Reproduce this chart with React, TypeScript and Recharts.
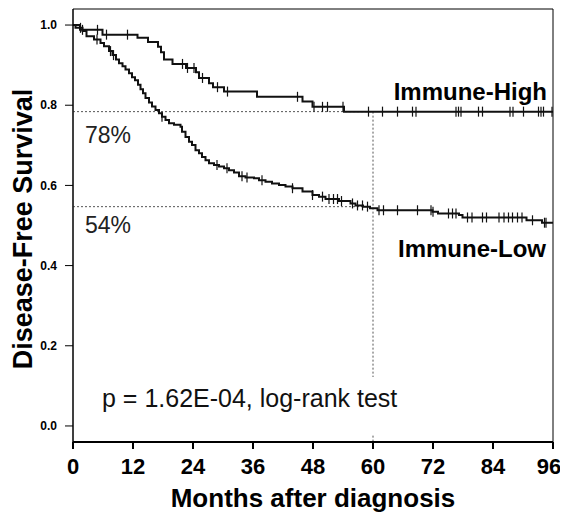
import {
    ComposedChart,
    Line,
    Scatter,
    XAxis,
    YAxis,
    ReferenceLine,
    ReferenceArea
} from "recharts";

const FONT = "'Liberation Sans', Arial, sans-serif";

const monthTicks = [0, 12, 24, 36, 48, 60, 72, 84, 96];
const survivalTicks = [0, 0.2, 0.4, 0.6, 0.8, 1.0];
const monthDomain = [0, 96];
const survivalDomain = [-0.04, 1.04];

// Immune-High: step times (months) and survival after each step
const highTimes = [0, 1.4, 5.9, 12.9, 15.0, 17.0, 17.6, 18.2, 19.9, 22.6, 24.6, 25.2, 27.2, 28.0, 30.2, 36.8, 45.9, 47.9, 54.2, 96];
const highSurv = [1.0, 0.988, 0.976, 0.968, 0.958, 0.946, 0.932, 0.914, 0.903, 0.893, 0.882, 0.868, 0.855, 0.845, 0.834, 0.821, 0.809, 0.796, 0.784, 0.784];
const highCensor = [1.9, 4.9, 6.7, 10.9, 21.9, 22.9, 24.2, 25.9, 28.9, 30.9, 44.9, 48.2, 49.9, 50.9, 54.0, 59.1, 61.9, 64.9, 67.9, 68.6, 76.6, 77.1, 77.6, 81.1, 81.9, 87.4, 88.0, 90.1, 93.1, 93.6, 94.1, 95.8];

// Immune-Low
const lowTimes = [0, 0.5, 1.9, 2.7, 4.2, 5.5, 6.2, 7.2, 7.9, 8.6, 9.2, 9.9, 10.5, 11.2, 11.8, 12.4, 13.0, 13.5, 14.0, 14.5, 15.2, 15.8, 16.5, 17.2, 17.8, 18.5, 19.2, 20.2, 21.5, 21.8, 22.5, 23.2, 23.8, 24.5, 25.2, 25.8, 26.5, 27.2, 28.2, 29.2, 30.2, 31.2, 32.2, 33.2, 34.5, 36.2, 37.2, 38.5, 39.8, 41.2, 42.5, 43.9, 45.9, 47.9, 49.2, 50.5, 53.2, 55.5, 56.5, 58.0, 59.4, 60.9, 71.9, 73.0, 77.2, 77.9, 90.7, 93.8, 96];
const lowSurv = [1.0, 0.993, 0.985, 0.972, 0.964, 0.955, 0.947, 0.935, 0.925, 0.914, 0.905, 0.897, 0.889, 0.88, 0.87, 0.862, 0.851, 0.84, 0.83, 0.818, 0.807, 0.797, 0.788, 0.78, 0.771, 0.763, 0.755, 0.751, 0.746, 0.734, 0.721, 0.709, 0.701, 0.688, 0.68, 0.671, 0.663, 0.655, 0.651, 0.647, 0.643, 0.638, 0.632, 0.623, 0.62, 0.618, 0.613, 0.609, 0.605, 0.601, 0.597, 0.593, 0.585, 0.576, 0.572, 0.566, 0.561, 0.555, 0.55, 0.547, 0.543, 0.538, 0.534, 0.53, 0.526, 0.52, 0.513, 0.507, 0.507];
const lowCensor = [1.5, 4.8, 7.5, 8.1, 17.8, 28.8, 30.8, 33.8, 34.8, 37.8, 43.9, 47.9, 49.9, 51.2, 52.1, 52.9, 53.7, 55.9, 56.9, 57.9, 58.9, 61.2, 62.1, 64.9, 68.9, 71.6, 72.0, 75.1, 75.9, 76.6, 78.9, 79.8, 81.9, 82.7, 85.2, 86.2, 87.1, 87.9, 88.9, 89.8, 91.9, 94.3, 94.6];

const landmarkMonth = 60;
const highAtLandmark = 0.784;
const lowAtLandmark = 0.547;

function survivalAt(times: number[], surv: number[], t: number) {
    let s = surv[0];
    for (let i = 0; i < times.length; i++) {
        if (times[i] <= t) s = surv[i];
    }
    return s;
}

const highCurve = highTimes.map((t, i) => ({ t, s: highSurv[i] }));
const lowCurve = lowTimes.map((t, i) => ({ t, s: lowSurv[i] }));
const highMarks = highCensor.map((t) => ({ t, s: survivalAt(highTimes, highSurv, t) }));
const lowMarks = lowCensor.map((t) => ({ t, s: survivalAt(lowTimes, lowSurv, t) }));

const CensorTick = (props: any) => (
    <line x1={props.cx} x2={props.cx} y1={props.cy - 5} y2={props.cy + 5} stroke="#111" strokeWidth={1.2} />
);

const dashed = { stroke: "#555", strokeWidth: 1, strokeDasharray: "2 2" };

export default function App() {
    return (
        <div style={{ position: "relative", width: 552, height: 512 }}>
            <ComposedChart
                width={552}
                height={512}
                margin={{ top: 1, right: 7, left: 0, bottom: 0 }}
            >
                <XAxis
                    dataKey="t"
                    type="number"
                    domain={monthDomain}
                    ticks={monthTicks}
                    height={78}
                    tickSize={7}
                    tickMargin={9}
                    axisLine={{ stroke: "#000", strokeWidth: 2 }}
                    tickLine={{ stroke: "#000", strokeWidth: 2 }}
                    tick={{ fontSize: 22, fontWeight: 700, fill: "#000", fontFamily: FONT }}
                    label={{
                        value: "Months after diagnosis",
                        position: "insideBottom",
                        offset: 13,
                        style: { fontSize: 26, fontWeight: 700, fill: "#000", fontFamily: FONT }
                    }}
                />
                <YAxis
                    type="number"
                    domain={survivalDomain}
                    ticks={survivalTicks}
                    allowDataOverflow
                    width={65}
                    tickSize={8}
                    tickMargin={8}
                    tickFormatter={(v: number) => v.toFixed(1)}
                    axisLine={{ stroke: "#000", strokeWidth: 1 }}
                    tickLine={{ stroke: "#000", strokeWidth: 1 }}
                    tick={{ fontSize: 12, fontWeight: 700, fill: "#000", fontFamily: FONT }}
                    label={{
                        content: (p: any) => {
                            const vb = p.viewBox || { y: 1, height: 433 };
                            const cy = vb.y + vb.height / 2 + 3.5;
                            return (
                                <text
                                    transform={`translate(24, ${cy}) rotate(-90)`}
                                    textAnchor="middle"
                                    fontSize={27}
                                    fontWeight={700}
                                    fontFamily={FONT}
                                    fill="#000"
                                >
                                    Disease-Free Survival
                                </text>
                            );
                        }
                    }}
                />
                <ReferenceArea
                    x1={monthDomain[0]}
                    x2={monthDomain[1]}
                    y1={survivalDomain[0]}
                    y2={survivalDomain[1]}
                    fill="none"
                    stroke="#000"
                    strokeWidth={1}
                    fillOpacity={0}
                />
                <ReferenceLine
                    segment={[{ x: 0, y: highAtLandmark }, { x: landmarkMonth, y: highAtLandmark }]}
                    {...dashed}
                />
                <ReferenceLine
                    segment={[{ x: 0, y: lowAtLandmark }, { x: landmarkMonth, y: lowAtLandmark }]}
                    {...dashed}
                />
                <ReferenceLine
                    segment={[{ x: landmarkMonth, y: highAtLandmark }, { x: landmarkMonth, y: survivalDomain[0] }]}
                    {...dashed}
                />
                <Line
                    data={highCurve}
                    dataKey="s"
                    type="stepAfter"
                    stroke="#111"
                    strokeWidth={2}
                    dot={false}
                    activeDot={false}
                    isAnimationActive={false}
                />
                <Line
                    data={lowCurve}
                    dataKey="s"
                    type="stepAfter"
                    stroke="#111"
                    strokeWidth={2}
                    dot={false}
                    activeDot={false}
                    isAnimationActive={false}
                />
                <Scatter data={highMarks} dataKey="s" shape={CensorTick} isAnimationActive={false} />
                <Scatter data={lowMarks} dataKey="s" shape={CensorTick} isAnimationActive={false} />
            </ComposedChart>
            <svg
                width={552}
                height={512}
                style={{ position: "absolute", left: 0, top: 0, pointerEvents: "none" }}
                fontFamily={FONT}
            >
                <text x={77} y={135} fontSize={23} fill="#222">78%</text>
                <text x={77} y={225} fontSize={23} fill="#222">54%</text>
                <text x={539} y={92} fontSize={24} fontWeight={700} textAnchor="end" fill="#000">Immune-High</text>
                <text x={538} y={249} fontSize={24} fontWeight={700} textAnchor="end" fill="#000">Immune-Low</text>
                <rect x={88} y={369} width={324} height={58} fill="#fff" />
                <text x={94} y={399} fontSize={25} fill="#111">p = 1.62E-04, log-rank test</text>
            </svg>
        </div>
    );
}
